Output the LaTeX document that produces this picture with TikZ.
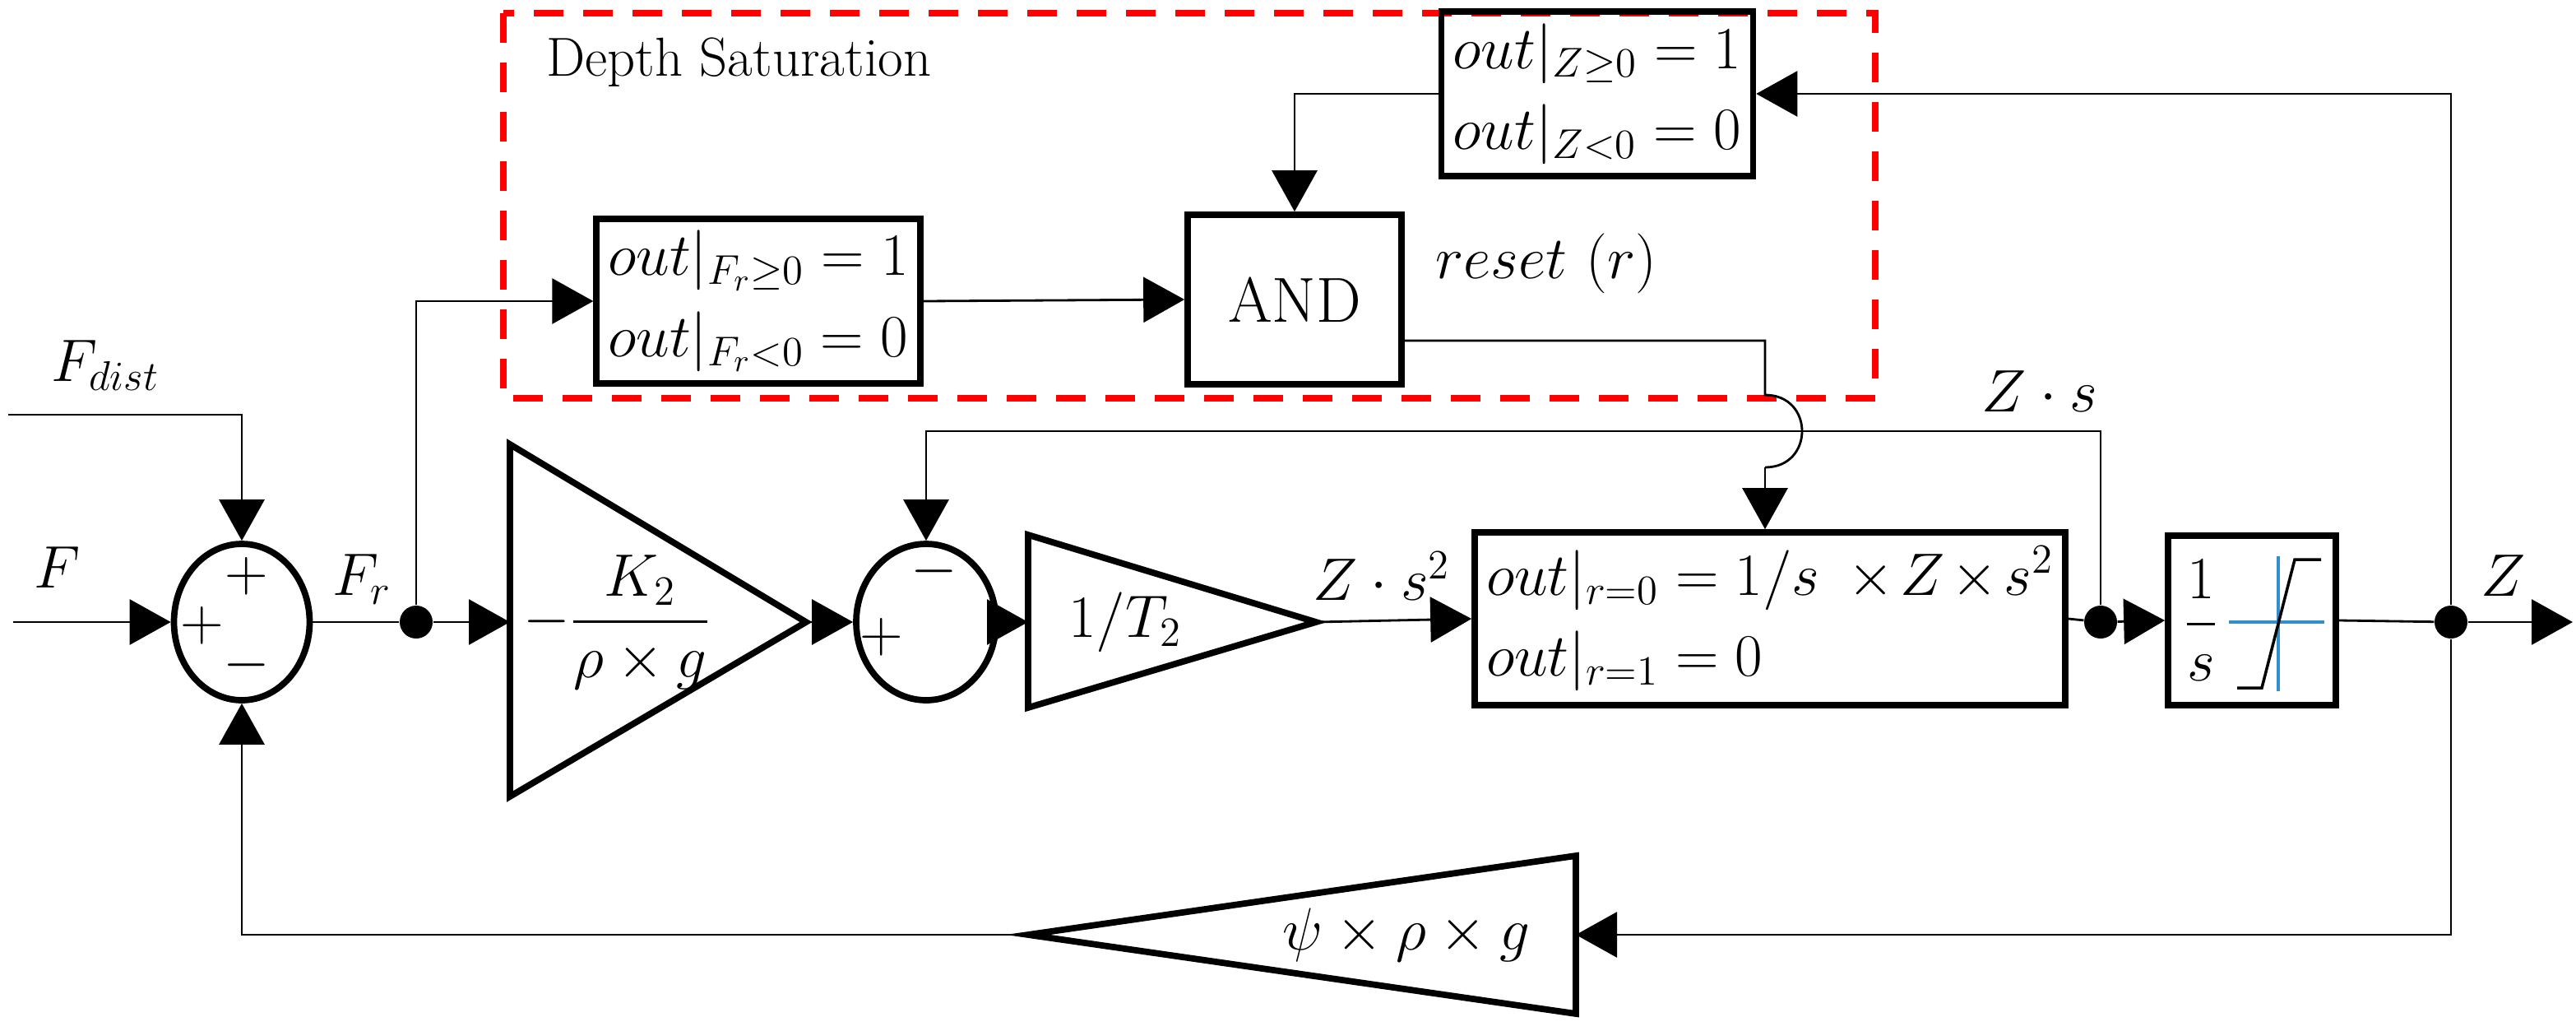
\documentclass[tikz,border=0pt]{standalone}
\usepackage{amsmath}
\usetikzlibrary{arrows.meta,shapes.geometric,positioning}
\tikzset{main base/.style={draw,line width=2.2pt,text centered}}
\tikzset{main node/.style={rectangle,main base,inner sep=4pt}}
\tikzset{sum node/.style={ellipse,main base,minimum width=1.65cm,minimum height=1.9cm,inner sep=0pt}}
\tikzset{dot/.style={circle,fill,inner sep=0pt,minimum size=0.4cm}}
\tikzset{linea/.style={-{Triangle[length=0.5cm,width=0.55cm]},line width=0.8pt,draw}}
\tikzset{linea2/.style={line width=0.8pt,draw}}
\tikzset{lab/.style={font=\fontsize{22}{26}\selectfont}}
\begin{document}
\begin{tikzpicture}[x=0.02cm,y=-0.02cm,font=\fontsize{22}{26}\selectfont]
  \useasboundingbox (0,0) rectangle (1566,626);
  % depth saturation frame
  \draw[red,line width=2.4pt,dash pattern=on 0.36cm off 0.24cm] (306,8) rectangle (1140,242);
  \node[anchor=west,font=\fontsize{19}{22}\selectfont] (title) at (326,38) {Depth Saturation};
  % blocks
  \node[main node,align=left] (zc) at (971,57) {$out|_{Z\geq0}=1$\\[2pt]$out|_{Z<0}=0$};
  \node[main node,align=left] (fc) at (461,183) {$out|_{F_r\geq0}=1$\\[2pt]$out|_{F_r<0}=0$};
  \node[main node,minimum width=2.6cm,minimum height=2.06cm] (and) at (787,182) {AND};
  \node[sum node] (s1) at (147,378) {};
  \node at (150,350) {$+$};
  \node at (123,380) {$+$};
  \node at (150,404) {$-$};
  \node[sum node,minimum width=1.7cm] (s2) at (563,378) {};
  \node at (568,347) {$-$};
  \node at (536,387) {$+$};
  \node[main node,align=left,text width=6.9cm,minimum height=2.1cm] (int1) at (1076,376) {$out|_{r=0}=1/s\ \times Z\times s^2$\\[2pt]$out|_{r=1}=0$};
  \node[main node,minimum width=2.04cm,minimum height=2.06cm] (sat) at (1369,377) {};
  % gains
  \draw[main base] (310,270) -- (490,378) -- (310,484) -- cycle;
  \coordinate (g1in) at (310,378);
  \coordinate (g1out) at (490,378);
  \node (g1) at (375,378) {$-\dfrac{K_2}{\rho\times g}$};
  \draw[main base] (625,325) -- (800,378) -- (625,430) -- cycle;
  \coordinate (g2in) at (625,378);
  \coordinate (g2out) at (800,378);
  \node (g2) at (684,378) {$1/T_2$};
  \draw[main base] (958,520) -- (625,568) -- (958,616) -- cycle;
  \coordinate (g3in) at (958,568);
  \coordinate (g3out) at (625,568);
  \node (g3) at (855,568) {$\psi\times\rho\times g$};
  % saturation icon
  \node[inner sep=0pt] (frac) at (1338,377) {$\dfrac{1}{s}$};
  \draw[blue!40!cyan!60!gray,line width=1pt] (1355,378) -- (1413,378) (1385,338) -- (1385,420);
  \draw[line width=1pt] (1360,418) -- (1375,418) -- (1395,340) -- (1411,340);
  % dots and coordinates
  \node[dot] (d1) at (253,378) {};
  \node[dot] (d2) at (1277,378) {};
  \node[dot] (d3) at (1490,378) {};
  \coordinate (zout) at (1564,378);
  \coordinate (fin) at (8,378);
  \coordinate (fdin) at (5,252);
  % labels
  \node[lab] at (35,345) {$F$};
  \node[lab] at (64,222) {$F_{dist}$};
  \node[lab] at (220,352) {$F_r$};
  \node[lab] at (840,350) {$Z\cdot s^2$};
  \node[lab] at (1240,238) {$Z\cdot s$};
  \node[lab] at (940,160) {$reset\ (r)$};
  \node[lab] at (1522,350) {$Z$};
  % connectors
  \path[linea] (fin) -- (s1.west);
  \path[linea] (fdin) -| (s1.north);
  \path[linea2] (s1.east) -- (d1);
  \path[linea] (d1) -- (g1in);
  \path[linea] (d1) |- (fc.west);
  \path[linea] (fc.east) -- (and.west);
  \path[linea] (g1out) -- (s2.west);
  \path[linea] (s2.east) -- (g2in);
  \path[linea] (g2out) -- (int1.west);
  \path[linea2] (int1.east) -- (d2);
  \path[linea] (d2) -- (sat.west);
  \path[linea2] (sat.east) -- (d3);
  \path[linea] (d3) -- (zout);
  \path[linea] (d2) |- (563,262) -- (s2.north);
  \path[linea] (d3) |- (g3in);
  \path[linea] (g3out) -| (s1.south);
  \path[linea] (d3) |- (zc.east);
  \path[linea] (zc.west) -| (and.north);
  \path[linea2] (and.east |- 0,207) -- (1073,207) -- (1073,240) .. controls (1103,240) and (1103,284) .. (1073,284);
  \path[linea] (1073,284) -- (int1.north -| 1073,0);
\end{tikzpicture}
\end{document}
